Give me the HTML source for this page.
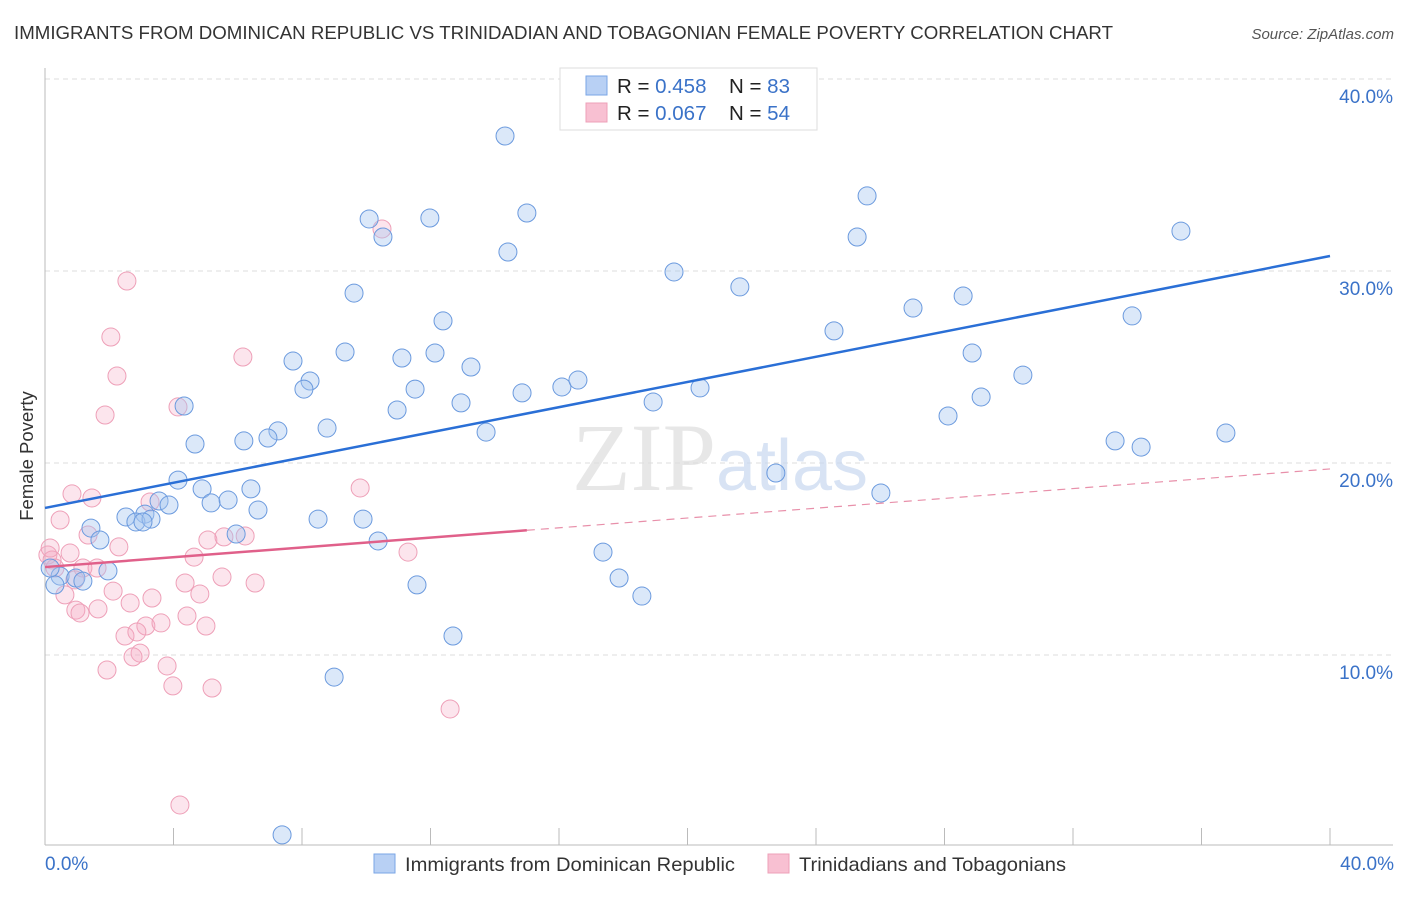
<!DOCTYPE html>
<html><head><meta charset="utf-8"><style>
body{margin:0;background:#fff;font-family:"Liberation Sans",sans-serif}
</style></head><body>
<svg width="1406" height="892" xmlns="http://www.w3.org/2000/svg" font-family="Liberation Sans, sans-serif">
<text x="14" y="39" font-size="18.6" fill="#333" textLength="1099" lengthAdjust="spacingAndGlyphs">IMMIGRANTS FROM DOMINICAN REPUBLIC VS TRINIDADIAN AND TOBAGONIAN FEMALE POVERTY CORRELATION CHART</text>
<text x="1394" y="39" font-size="15" fill="#555" font-style="italic" text-anchor="end">Source: ZipAtlas.com</text>
<g id="grid"></g>
<text x="720" y="490" font-size="96" text-anchor="middle" fill="#ddd" font-family="Liberation Serif, serif" opacity="0.7">ZIP<tspan fill="#c8d8f0" font-family="Liberation Sans, sans-serif" font-size="72">atlas</tspan></text>
<g id="pts"></g>
<g id="lines"></g>
<text transform="translate(33,456) rotate(-90)" font-size="18.5" fill="#333" text-anchor="middle">Female Poverty</text>
<text x="45" y="870" font-size="19" fill="#3a72c8">0.0%</text>
<text x="1394" y="870" font-size="19" fill="#3a72c8" text-anchor="end">40.0%</text>
<g>
<rect x="560" y="68" width="257" height="62" fill="#fff" stroke="#ddd"/>
<rect x="586" y="76" width="21" height="19" fill="#b8d0f4" stroke="#7aa6e6"/>
<rect x="586" y="103" width="21" height="19" fill="#f8c0d2" stroke="#eea0b8"/>
<text x="617" y="93" font-size="20.5" fill="#222">R = <tspan fill="#3a72c8">0.458</tspan><tspan x="729">N = </tspan><tspan fill="#3a72c8">83</tspan></text>
<text x="617" y="120" font-size="20.5" fill="#222">R = <tspan fill="#3a72c8">0.067</tspan><tspan x="729">N = </tspan><tspan fill="#3a72c8">54</tspan></text>
</g>
<g>
<rect x="374" y="854" width="21" height="19" fill="#b8d0f4" stroke="#7aa6e6"/>
<text x="405" y="871" font-size="19.5" fill="#333" textLength="330" lengthAdjust="spacingAndGlyphs">Immigrants from Dominican Republic</text>
<rect x="768" y="854" width="21" height="19" fill="#f8c0d2" stroke="#eea0b8"/>
<text x="799" y="871" font-size="19.5" fill="#333" textLength="267" lengthAdjust="spacingAndGlyphs">Trinidadians and Tobagonians</text>
</g>
</svg>
<script>
const blueX=[14.32,21.07,16.93,10.09,11.98,10.52,15.00,14.41,25.59,25.28,35.36,19.58,21.63,9.62,12.39,27.02,28.58,33.84,24.56,9.34,11.11,12.14,7.72,13.26,28.86,30.44,8.25,8.06,11.52,14.85,16.09,16.59,4.33,10.96,12.95,18.93,20.39,29.14,28.11,8.78,7.25,6.94,6.19,4.67,13.73,33.31,34.12,36.76,22.75,26.02,4.14,4.89,6.41,3.55,5.17,5.70,3.86,6.63,3.11,2.52,2.83,3.30,3.05,8.50,9.90,5.95,1.43,1.71,10.37,17.37,1.96,0.47,0.96,1.18,0.31,0.16,17.87,18.58,11.58,12.70,9.00,7.38];
const blueY=[37.03,39.48,38.65,32.71,32.76,31.77,33.02,30.99,33.91,31.77,32.08,29.95,29.17,28.85,27.40,28.07,28.70,27.66,26.88,25.78,25.47,25.73,25.31,25.00,25.73,24.58,24.27,23.85,23.85,23.65,23.96,24.32,22.97,22.76,23.13,23.18,23.91,23.44,22.45,21.82,21.67,21.30,21.15,20.99,21.61,21.15,20.83,21.56,19.48,18.44,19.11,18.65,18.65,18.02,17.92,18.07,17.81,17.55,17.34,17.19,16.93,17.08,16.93,17.08,17.08,16.30,16.61,15.99,15.94,15.36,14.38,14.11,14.01,13.85,13.65,14.53,14.01,13.07,13.65,10.99,8.85,0.63];
const pinkX=[2.55,2.05,2.24,6.16,1.87,4.14,10.49,9.81,0.84,1.46,3.27,0.47,1.34,2.30,5.07,5.57,6.23,4.64,0.78,11.30,0.09,0.22,0.31,1.18,1.62,5.51,4.36,6.54,2.12,2.65,3.33,4.82,0.62,0.96,1.09,1.65,4.42,3.14,3.61,5.01,2.49,2.86,2.96,2.74,3.80,1.93,3.98,5.20,12.61,4.20,0.16,0.93];
const pinkY=[29.48,26.56,24.53,25.52,22.50,22.92,32.19,18.70,18.39,18.18,17.97,17.03,16.25,15.63,15.99,16.15,16.20,15.10,15.31,15.36,15.21,14.95,14.53,14.53,14.53,14.06,13.75,13.75,13.33,12.71,12.97,13.18,13.13,12.34,12.19,12.40,12.03,11.51,11.67,11.51,10.99,11.20,10.10,9.90,9.43,9.22,8.39,8.28,7.19,2.19,15.57,13.91];
const blueTrend=[17.66,30.78];
const pinkTrend=[14.58,19.69];
const pinkSolidEnd=15.0;
const yTicks=[10,20,30,40];
const xTicks=[0,4,8,12,16,20,24,28,32,36,40];
const NS="http://www.w3.org/2000/svg";
const sx=v=>45+v*32.125, sy=v=>847-v*19.2;
function mk(tag,at,parent){const e=document.createElementNS(NS,tag);for(const k in at)e.setAttribute(k,at[k]);parent.appendChild(e);return e;}
const grid=document.getElementById('grid');
yTicks.forEach(t=>{
 const l=mk('line',{x1:45,x2:1393,y1:sy(t),y2:sy(t),stroke:'#ddd','stroke-dasharray':'5,4'},grid);
 
 
 const tx=mk('text',{x:1393,y:sy(t)+24,'font-size':19,fill:'#3a72c8','text-anchor':'end'},grid);
 tx.textContent=t.toFixed(1)+'%';
 
 
});
const ax=mk('line',{x1:45,x2:45,y1:68,y2:845,stroke:'#bbb'},grid);


const bx=mk('line',{x1:45,x2:1393,y1:845,y2:845,stroke:'#bbb'},grid);


xTicks.forEach(t=>{
 const l=mk('line',{x1:sx(t),x2:sx(t),y1:828,y2:845,stroke:'#bbb'},grid);
 
 
});
const pts=document.getElementById('pts');
pinkX.forEach((x,i)=>{
 const c=mk('circle',{cx:sx(x),cy:sy(pinkY[i]),r:9,fill:'rgba(245,170,195,0.3)',stroke:'#eea0b8','stroke-width':1},pts);
 
 
});
blueX.forEach((x,i)=>{
 const c=mk('circle',{cx:sx(x),cy:sy(blueY[i]),r:9,fill:'rgba(165,198,240,0.4)',stroke:'#6b9ade','stroke-width':1},pts);
 
 
});
const lines=document.getElementById('lines');
const bl=mk('line',{x1:sx(0),y1:sy(blueTrend[0]),x2:sx(40),y2:sy(blueTrend[1]),stroke:'#2a6fd6','stroke-width':2.5},lines);


const pm=pinkTrend[0]+(pinkTrend[1]-pinkTrend[0])*pinkSolidEnd/40;
const pl=mk('line',{x1:sx(0),y1:sy(pinkTrend[0]),x2:sx(pinkSolidEnd),y2:sy(pm),stroke:'#e0608a','stroke-width':2.5},lines);


const pd=mk('line',{x1:sx(pinkSolidEnd),y1:sy(pm),x2:sx(40),y2:sy(pinkTrend[1]),stroke:'#e890aa','stroke-width':1.2,'stroke-dasharray':'8,6'},lines);


</script>
</body></html>
